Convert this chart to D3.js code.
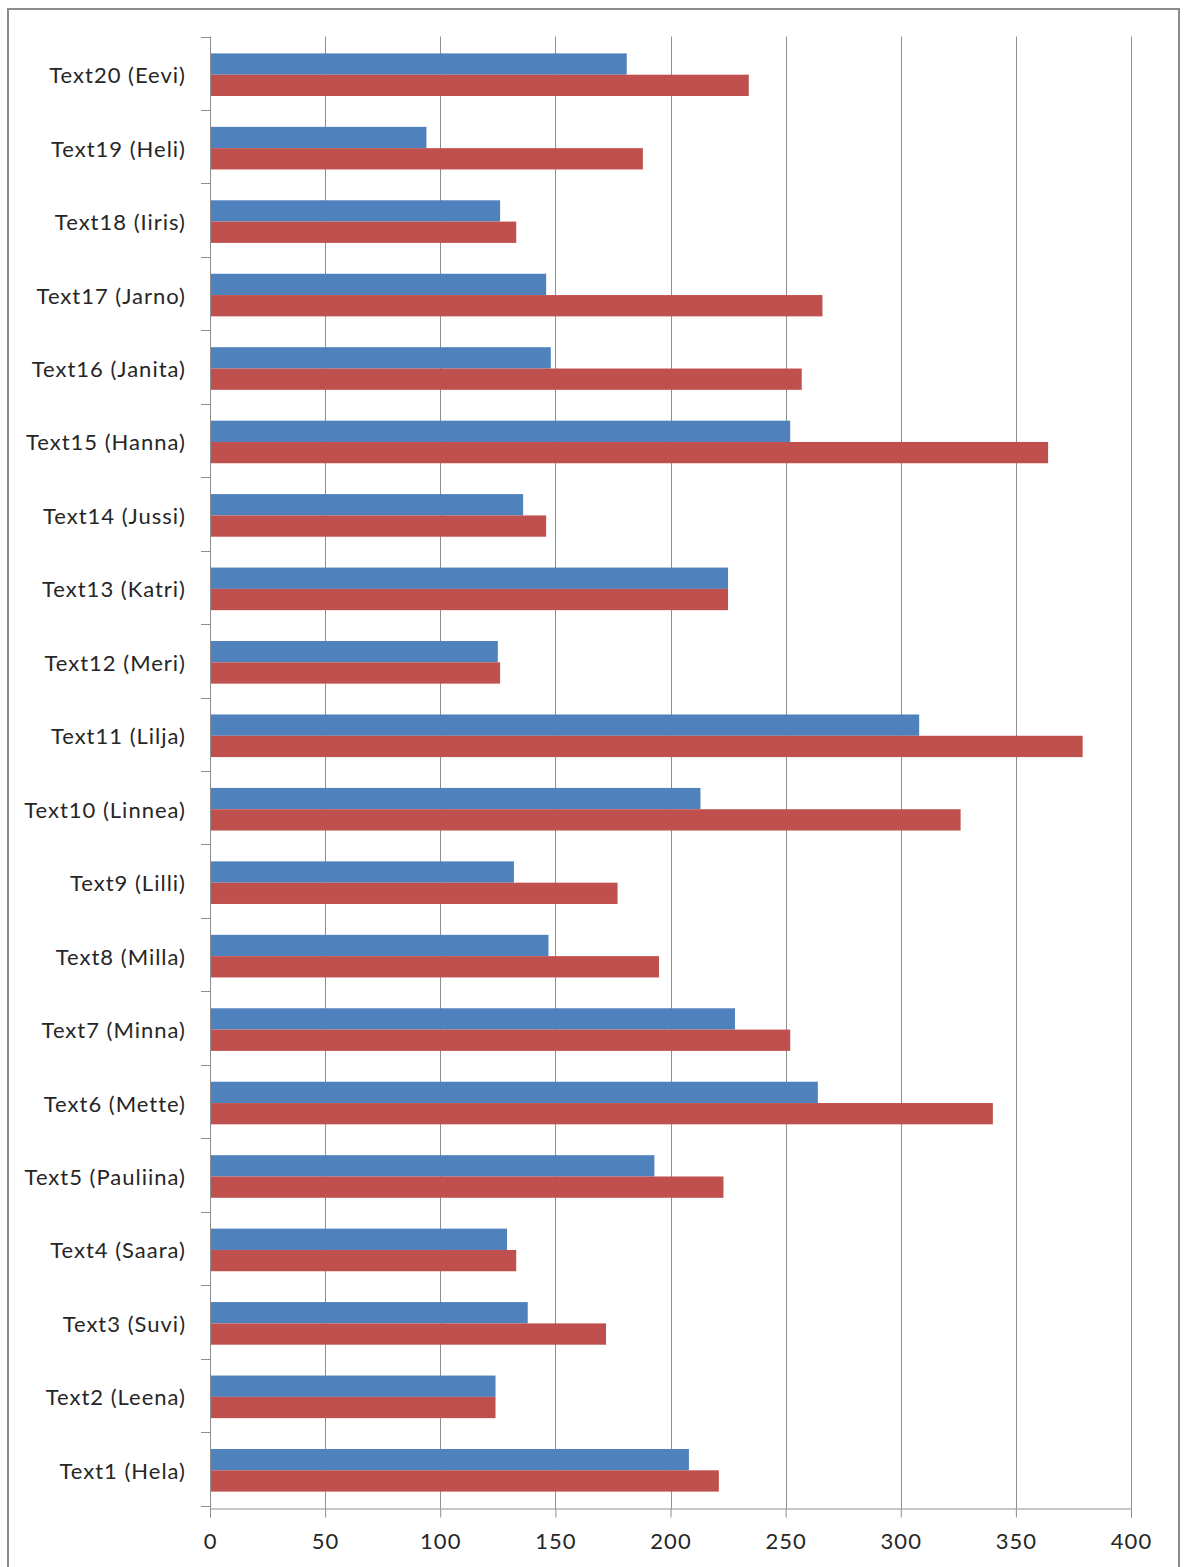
<!DOCTYPE html>
<html><head><meta charset="utf-8">
<script src="https://cdn.jsdelivr.net/npm/d3@7"></script>
<style>html,body{margin:0;padding:0;background:#fff;}svg{display:block;}</style>
</head><body>
<script>
const categories = ["Text1 (Hela)","Text2 (Leena)","Text3 (Suvi)","Text4 (Saara)","Text5 (Pauliina)","Text6 (Mette)","Text7 (Minna)","Text8 (Milla)","Text9 (Lilli)","Text10 (Linnea)","Text11 (Lilja)","Text12 (Meri)","Text13 (Katri)","Text14 (Jussi)","Text15 (Hanna)","Text16 (Janita)","Text17 (Jarno)","Text18 (Iiris)","Text19 (Heli)","Text20 (Eevi)"];
const seriesBlue = [208,124,138,129,193,264,228,147,132,213,308,125,225,136,252,148,146,126,94,181];
const seriesRed  = [221,124,172,133,223,340,252,195,177,326,379,126,225,146,364,257,266,133,188,234];
const xTicks = [0,50,100,150,200,250,300,350,400];

(function () {
const W = 1187, H = 1567;
const svg = d3.select("body").append("svg").attr("width", W).attr("height", H);
const font = "Lato, 'Open Sans', sans-serif";

// chart border
svg.append("rect").attr("x", 8).attr("y", 9).attr("width", 1171).attr("height", H + 10)
  .attr("fill", "#fff").attr("stroke", "#8c8c8c").attr("stroke-width", 2);

const pLeft = 210, pRight = 1131, pTop = 36.5, pBottom = 1508.5;
const x = d3.scaleLinear().domain([0, 400]).range([pLeft, pRight]);
const y = d3.scaleBand().domain(categories.slice().reverse()).range([pTop, pBottom]).paddingInner(0.42).paddingOuter(0.23);
const sub = d3.scaleBand().domain(["blue","red"]).range([0, y.bandwidth()]);

// gridlines
svg.append("g").selectAll("line").data(xTicks.slice(1)).join("line")
  .attr("x1", d => Math.round(x(d)) + 0.5).attr("x2", d => Math.round(x(d)) + 0.5)
  .attr("y1", pTop).attr("y2", pBottom)
  .attr("stroke", "#8e8e8e").attr("stroke-width", 1);

// bars
const g = svg.append("g");
categories.forEach((c, i) => {
  g.append("rect").attr("x", x(0)).attr("y", y(c) + sub("blue"))
    .attr("width", x(seriesBlue[i]) - x(0)).attr("height", sub.bandwidth()).attr("fill", "#4F81BD");
  g.append("rect").attr("x", x(0)).attr("y", y(c) + sub("red"))
    .attr("width", x(seriesRed[i]) - x(0)).attr("height", sub.bandwidth()).attr("fill", "#C0504D");
});

// x axis
const xAxis = d3.axisBottom(x).tickValues(xTicks).tickSize(9).tickPadding(16).tickFormat(d3.format("d"));
const gx = svg.append("g").attr("transform", `translate(0,${pBottom})`).call(xAxis);
gx.select(".domain").attr("stroke", "#8e8e8e");
gx.selectAll(".tick line").attr("stroke", "#8e8e8e");
gx.selectAll(".tick text").attr("font-family", font).attr("font-size", 22)
  .attr("letter-spacing", 1).attr("fill", "#262626");

// y axis: category boundary ticks
const bounds = d3.range(categories.length + 1).map(k => pTop + k * y.step());
const gy = svg.append("g");
gy.append("line").attr("x1", pLeft + 0.5).attr("x2", pLeft + 0.5).attr("y1", pTop).attr("y2", pBottom).attr("stroke", "#8e8e8e");
gy.selectAll("line.t").data(bounds).join("line").attr("class", "t")
  .attr("x1", pLeft - 9).attr("x2", pLeft).attr("y1", d => Math.round(d) + 0.5).attr("y2", d => Math.round(d) + 0.5)
  .attr("stroke", "#8e8e8e");
gy.selectAll("text").data(categories).join("text")
  .attr("x", 186).attr("y", d => y(d) + y.bandwidth() / 2)
  .attr("text-anchor", "end").attr("dominant-baseline", "central")
  .attr("font-family", font).attr("font-size", 22).attr("letter-spacing", 1).attr("fill", "#262626")
  .text(d => d);
})();
</script>
</body></html>
